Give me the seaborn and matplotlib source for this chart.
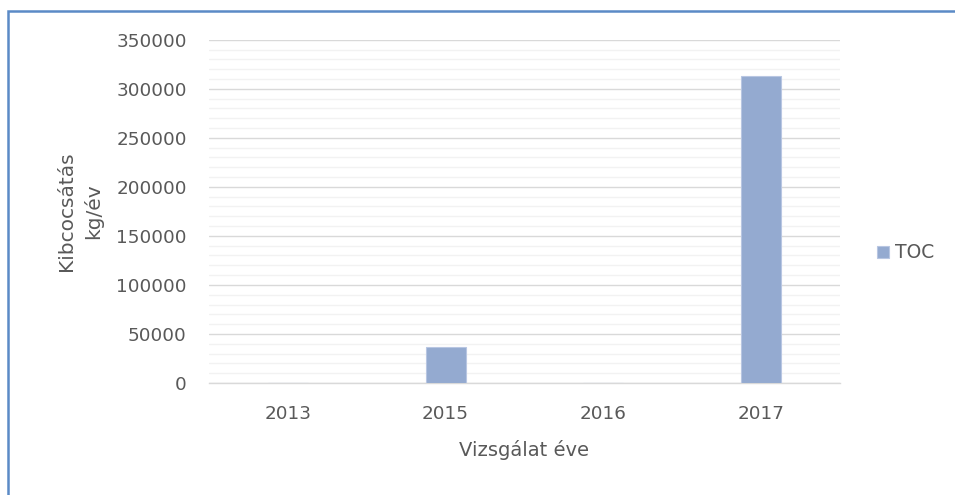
import matplotlib
matplotlib.use("Agg")
import matplotlib.pyplot as plt
from matplotlib.patches import Rectangle
from matplotlib.ticker import MultipleLocator
import seaborn as sns
import pandas as pd

# data
years = ["2013", "2015", "2016", "2017"]
toc_values = [0, 36500, 0, 313000]
series_name = "TOC"

df = pd.DataFrame({"year": years, "value": toc_values})

sns.set_theme(style="white")
plt.rcParams["font.family"] = ["DejaVu Sans"]

text_grey = "#595959"
bar_colour = "#94aad0"

fig = plt.figure(figsize=(9.55, 4.95), dpi=100)
ax = fig.add_axes([0.2188, 0.2263, 0.6608, 0.6935])

sns.barplot(data=df, x="year", y="value", color=bar_colour, saturation=1, width=0.254,
            edgecolor="#b8c6e2", linewidth=0.8, label=series_name, ax=ax, zorder=3)

ax.set_ylim(0, 350000)
ax.yaxis.set_major_locator(MultipleLocator(50000))
ax.yaxis.set_minor_locator(MultipleLocator(10000))
ax.grid(which="major", axis="y", color="#d9d9d9", linewidth=1.0, zorder=0)
ax.grid(which="minor", axis="y", color="#f2f2f2", linewidth=1.0, zorder=0)
ax.set_axisbelow(True)

for side in ["top", "right", "left"]:
    ax.spines[side].set_visible(False)
ax.spines["bottom"].set_color("#d9d9d9")
ax.spines["bottom"].set_linewidth(1.0)

ax.tick_params(axis="both", which="both", length=0, labelsize=13.2,
               labelcolor=text_grey, pad=16)

ax.set_xlabel("Vizsgálat éve", fontsize=14, color=text_grey, labelpad=12)
ax.set_ylabel("Kibcocsátás\nkg/év", fontsize=14.5, color=text_grey, linespacing=1.45)
ax.yaxis.set_label_coords(-0.168, 0.5)

ax.legend(loc="center left", bbox_to_anchor=(0.918, 0.489), bbox_transform=fig.transFigure,
          frameon=False, fontsize=13.5, labelcolor=text_grey,
          handlelength=0.65, handleheight=0.65, handletextpad=0.35, borderpad=0, borderaxespad=0)

# chart border (only left and top edges are inside the image)
fig.patches.append(Rectangle((7.5 / 955, -0.1), 1.2, 1 - 10.5 / 495 + 0.1,
                             transform=fig.transFigure, fill=False,
                             edgecolor="#5b8ac6", linewidth=1.8))

fig.savefig("out.png", dpi=100)
